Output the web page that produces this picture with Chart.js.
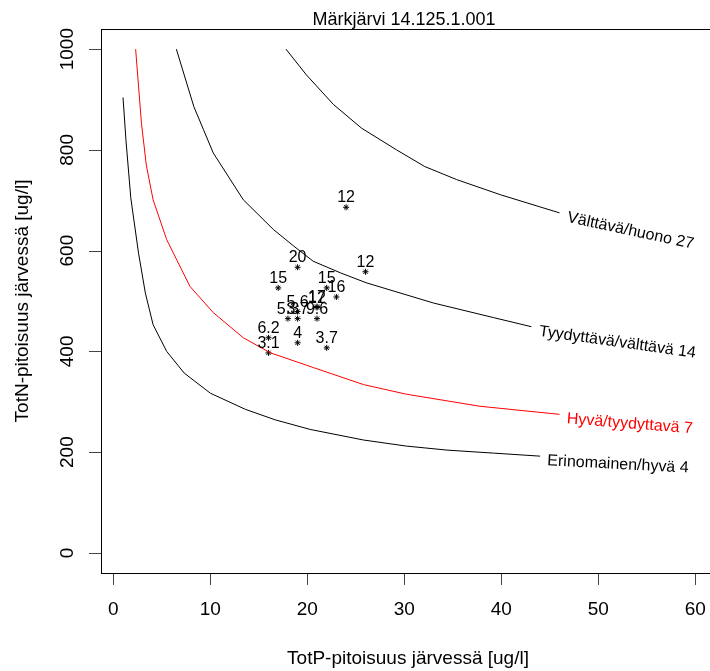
<!DOCTYPE html>
<html lang="fi">
<head>
<meta charset="UTF-8">
<title>Märkjärvi 14.125.1.001</title>
<script src="https://cdn.jsdelivr.net/npm/chart.js"></script>
<style>
  html, body { margin: 0; padding: 0; background: #fff; overflow: hidden; }
</style>
</head>
<body>
<canvas id="chart" width="730" height="671"></canvas>
<script>
  // axis ticks
  const xTicks = [0, 10, 20, 30, 40, 50, 60];
  const yTicks = [0, 200, 400, 600, 800, 1000];

  // class boundary curves, TotP / TotN
  const erinP = [1.0, 1.3, 1.8, 2.6, 3.3, 4.1, 5.5, 7.3, 10.0, 13.6, 16.7, 20.3, 25.8, 30.2, 34.4, 39.2, 44.0];
  const erinN = [904, 820, 705, 595, 516, 453, 400, 357, 317, 285, 264, 245, 224, 212, 204, 198, 192];

  const hyvaP = [2.3, 2.9, 3.4, 4.1, 5.5, 7.9, 10.3, 13.4, 16.2, 20.6, 25.8, 30.2, 37.8, 46.0];
  const hyvaN = [1000, 853, 770, 701, 622, 529, 477, 427, 397, 368, 334, 315, 291, 275];

  const tyyP = [6.5, 8.3, 9.3, 10.3, 13.4, 16.5, 18.6, 20.6, 23.4, 26.1, 33.0, 39.2, 43.1];
  const tyyN = [1000, 886, 840, 794, 701, 642, 609, 579, 556, 536, 496, 467, 449];

  const valP = [17.8, 19.9, 22.7, 25.6, 29.2, 32.1, 35.4, 39.9, 44.3, 46.0];
  const valN = [1000, 949, 890, 843, 800, 767, 741, 711, 685, 675];

  const curveNames = ['Erinomainen/hyvä 4', 'Hyvä/tyydyttavä 7', 'Tyydyttävä/välttävä 14', 'Välttävä/huono 27'];

  // observations
  const obsP = [24, 26, 19, 17, 22, 23, 19, 21, 21, 18, 19, 21, 16, 16, 19, 22];
  const obsN = [686, 558, 567, 526, 526, 508, 479, 489, 487, 465, 465, 465, 427, 397, 417, 407];
  const obsLabel = ['12', '12', '20', '15', '15', '16', '5.6', '17', '12', '5.3', '3.7', '9.6', '6.2', '3.1', '4', '3.7'];

  const zip = (a, b) => a.map((v, i) => ({ x: v, y: b[i] }));

  function curve(p, n, color) {
    return {
      data: zip(p, n), showLine: true, borderColor: color, borderWidth: 1,
      pointRadius: 0, tension: 0, fill: false
    };
  }

  const curves = [
    { ds: curve(erinP, erinN, '#000'), angle: 3, color: '#000' },
    { ds: curve(hyvaP, hyvaN, '#ff0000'), angle: 4.5, color: '#ff0000' },
    { ds: curve(tyyP, tyyN, '#000'), angle: 8, color: '#000' },
    { ds: curve(valP, valN, '#000'), angle: 12, color: '#000' }
  ];

  const FONT = '"Liberation Sans", Arial, sans-serif';

  const rStyle = {
    id: 'rStyle',
    afterDraw(chart) {
      const { ctx, chartArea: a, scales: { x, y } } = chart;
      ctx.save();

      // box
      ctx.strokeStyle = '#000';
      ctx.lineWidth = 1;
      ctx.strokeRect(a.left + 0.5, a.top + 0.5, a.right - a.left, a.bottom - a.top);

      // ticks
      ctx.strokeStyle = '#444';
      ctx.beginPath();
      xTicks.forEach(v => {
        const px = Math.round(x.getPixelForValue(v)) + 0.5;
        ctx.moveTo(px, a.bottom + 1);
        ctx.lineTo(px, a.bottom + 12);
      });
      yTicks.forEach(v => {
        const py = Math.round(y.getPixelForValue(v)) + 0.5;
        ctx.moveTo(a.left, py);
        ctx.lineTo(a.left - 12, py);
      });
      ctx.stroke();

      ctx.fillStyle = '#000';
      ctx.font = '19px ' + FONT;
      ctx.textAlign = 'center';
      ctx.textBaseline = 'middle';
      xTicks.forEach(v => ctx.fillText(String(v), x.getPixelForValue(v), 610));
      yTicks.forEach(v => {
        ctx.save();
        ctx.translate(68, y.getPixelForValue(v));
        ctx.rotate(-Math.PI / 2);
        ctx.fillText(String(v), 0, 0);
        ctx.restore();
      });

      // titles
      const cx = (a.left + a.right) / 2;
      const cy = (a.top + a.bottom) / 2;
      ctx.textBaseline = 'alphabetic';
      ctx.font = '18px ' + FONT;
      ctx.fillText('Märkjärvi 14.125.1.001', cx - 4, 25);
      ctx.font = '19px ' + FONT;
      ctx.fillText('TotP-pitoisuus järvessä [ug/l]', cx, 664);
      ctx.save();
      ctx.translate(28, cy);
      ctx.rotate(-Math.PI / 2);
      ctx.fillText('TotN-pitoisuus järvessä [ug/l]', 0, 0);
      ctx.restore();

      // curve labels
      ctx.font = '16px ' + FONT;
      ctx.textAlign = 'left';
      curves.forEach((c, i) => {
        const last = c.ds.data[c.ds.data.length - 1];
        ctx.save();
        ctx.translate(x.getPixelForValue(last.x) + 7, y.getPixelForValue(last.y) + 9);
        ctx.rotate(c.angle * Math.PI / 180);
        ctx.fillStyle = c.color;
        ctx.fillText(curveNames[i], 0, 0);
        ctx.restore();
      });

      // observation labels
      ctx.fillStyle = '#000';
      ctx.textAlign = 'center';
      obsP.forEach((p, i) => {
        ctx.fillText(obsLabel[i], x.getPixelForValue(p), y.getPixelForValue(obsN[i]) - 5);
      });

      ctx.restore();
    }
  };

  const ctx = document.getElementById('chart').getContext('2d');
  new Chart(ctx, {
    type: 'scatter',
    data: {
      datasets: curves.map(c => c.ds).concat([{
        data: zip(obsP, obsN),
        pointStyle: 'star', pointRadius: 3, borderColor: '#000', borderWidth: 1,
        backgroundColor: '#000', showLine: false
      }])
    },
    options: {
      responsive: false,
      animation: false,
      layout: { padding: { left: 101, top: 29, right: 15, bottom: 98 } },
      scales: {
        x: { type: 'linear', min: -1.27, max: 62.03, display: false },
        y: { type: 'linear', min: -40, max: 1040, display: false }
      },
      plugins: { legend: { display: false }, tooltip: { enabled: false } }
    },
    plugins: [rStyle]
  });
</script>
</body>
</html>
